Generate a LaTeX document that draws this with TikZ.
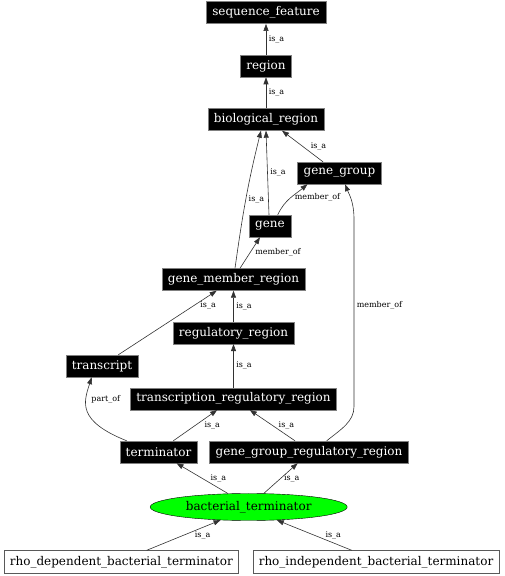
\documentclass[tikz,border=0pt]{standalone}
\usepackage{fontspec}
\setmainfont{DejaVu Serif}
\usepackage{tikz}
\usetikzlibrary{arrows.meta,shapes.geometric,positioning}
\definecolor{termgreen}{RGB}{0,255,0}
\definecolor{edgegray}{RGB}{50,50,50}

\begin{document}
\begin{tikzpicture}[x=1pt,y=1pt,
  sobox/.style={draw=gray,fill=black,text=white,font=\fontsize{12}{14}\selectfont,
    inner xsep=6pt,inner ysep=0pt,minimum height=22pt},
  leafbox/.style={draw=gray!70!black,fill=white,font=\fontsize{12}{14}\selectfont,
    inner xsep=5.5pt,inner ysep=0pt,minimum height=23pt},
  hub/.style={ellipse,draw=black,fill=termgreen,font=\fontsize{12}{14}\selectfont,
    inner sep=0pt,minimum width=197pt,minimum height=27pt},
  rel/.style={-{Triangle[length=7pt,width=5pt]},draw=edgegray,line width=0.6pt},
  lbl/.style={font=\fontsize{8}{9}\selectfont,inner sep=1pt}]
  \useasboundingbox (0,0) rectangle (504,576);

  % ontology terms
  \node[sobox] (bioreg) at (266,456.5) {biological\_region};
  \node[sobox,above=31pt of bioreg] (region) {region};
  \node[sobox,above=31pt of region] (seqfeat) {sequence\_feature};
  \node[sobox] (genegrp) at (339.5,403) {gene\_group};
  \node[sobox] (gene) at (270,350) {gene};
  \node[sobox] (gmr) at (233.5,296.5) {gene\_member\_region};
  \node[sobox,below=31pt of gmr] (regreg) {regulatory\_region};
  \node[sobox,below=43.5pt of regreg] (trr) {transcription\_regulatory\_region};
  \node[sobox] (transcript) at (102,210) {transcript};
  \node[sobox] (terminator) at (158.5,124) {terminator};
  \node[sobox] (ggrr) at (309,124) {gene\_group\_regulatory\_region};
  \node[hub] (bact) at (248.7,69) {bacterial\_terminator};
  \node[leafbox] (rhodep) at (121.3,14) {rho\_dependent\_bacterial\_terminator};
  \node[leafbox] (rhoind) at (376,14) {rho\_independent\_bacterial\_terminator};

  % relations
  \draw[rel] (region) -- node[lbl,right=1.5pt] {is\_a} (seqfeat);
  \draw[rel] (bioreg) -- node[lbl,right=1.5pt] {is\_a} (region);
  \draw[rel] ([xshift=-16.5pt]genegrp.north) -- node[lbl,right=7pt] {is\_a} ([xshift=16pt]bioreg.south);
  \draw[rel] ([xshift=-1pt]gene.north) -- node[lbl,right=1.5pt] {is\_a} (bioreg.south);
  \draw[rel] ([xshift=1.5pt]gmr.north) to[out=82,in=-104] node[lbl,right=1.5pt] {is\_a} ([xshift=-5pt]bioreg.south);
  \draw[rel] ([xshift=7.7pt]gene.north) to[out=65,in=-140] node[lbl,right=3pt] {member\_of} ([xshift=-32pt]genegrp.south);
  \draw[rel] ([xshift=6.5pt]gmr.north) -- node[lbl,right=4pt] {member\_of} ([xshift=-10pt]gene.south);
  \draw[rel] ([xshift=16.3pt]transcript.north) -- node[lbl,pos=0.77,right=5pt] {is\_a} ([xshift=-16.8pt]gmr.south);
  \draw[rel] (regreg) -- node[lbl,right=1.5pt] {is\_a} (gmr);
  \draw[rel] (trr) -- node[lbl,right=1.5pt] {is\_a} (regreg);
  \draw[rel] ([xshift=14.8pt]terminator.north) -- node[lbl,right=8pt] {is\_a} ([xshift=-16.3pt]trr.south);
  \draw[rel] ([xshift=-14pt]ggrr.north) -- node[lbl,right=5pt] {is\_a} ([xshift=16.3pt]trr.south);
  \draw[rel] ([xshift=17.7pt]ggrr.north) .. controls +(15pt,12pt) and +(0pt,-15pt) .. ++(27.3pt,34.3pt)
    -- node[lbl,right=1.5pt,pos=0.54] {member\_of} ++(0pt,187pt)
    .. controls +(0pt,18pt) and +(4pt,-10pt) .. ([xshift=5.5pt]genegrp.south);
  \draw[rel] ([xshift=-31.8pt]terminator.north) .. controls +(-50pt,20pt) and +(-8pt,-25pt) ..
    ([xshift=-10.3pt]transcript.south) node[lbl,pos=0.68,right=4pt] {part\_of};
  \draw[rel] (bact.147) -- node[lbl,right=7pt] {is\_a} ([xshift=18pt]terminator.south);
  \draw[rel] (bact.42) -- node[lbl,right=2pt] {is\_a} ([xshift=-11.3pt]ggrr.south);
  \draw[rel] ([xshift=25.4pt]rhodep.north) -- node[lbl,right=10pt] {is\_a} (bact.205);
  \draw[rel] ([xshift=-24.3pt]rhoind.north) -- node[lbl,right=10pt] {is\_a} (bact.-25);
\end{tikzpicture}
\end{document}
